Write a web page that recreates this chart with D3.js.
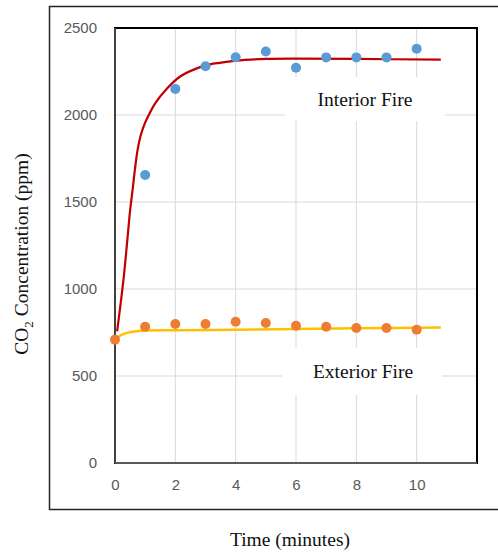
<!DOCTYPE html>
<html><head><meta charset="utf-8">
<script src="https://cdn.jsdelivr.net/npm/d3@7/dist/d3.min.js"></script>
<style>body{margin:0;background:#fff;}svg{display:block;}</style>
</head><body>
<svg id="c" width="498" height="552"></svg>
<script>
// Data
const times = [0,1,2,3,4,5,6,7,8,9,10];
const interiorTimes = [1,2,3,4,5,6,7,8,9,10];
const interiorValues = [1655,2150,2280,2332,2365,2272,2331,2331,2331,2381];
const exteriorValues = [709,783,799,799,812,805,789,783,776,776,766];
// Fitted trend curves
const interiorFitT = [0.07,0.28,0.40,0.50,0.59,0.67,0.75,0.84,0.95,1.05,1.33,1.71,2.15,2.71,3.15,3.48,4,5,6,8,10.8];
const interiorFitV = [756,1052,1265,1450,1580,1700,1800,1875,1935,1975,2067,2150,2220,2268,2291,2300,2312,2322,2324,2322,2318];
const exteriorFitT = [0.03,0.2,0.4,0.7,1,2,4,6,8,10.8];
const exteriorFitV = [715,735,748,757,761,763,766,770,774,779];
const xTicks = [0,2,4,6,8,10];
const yTicks = [0,500,1000,1500,2000,2500];

const svg = d3.select("#c");
const L = 115, T = 28, R = 477, B = 463;
const x = d3.scaleLinear().domain([0,12]).range([L,R]);
const y = d3.scaleLinear().domain([0,2500]).range([B,T]);

// outer frame
svg.append("rect").attr("x",49.5).attr("y",6.5).attr("width",460).attr("height",503)
  .attr("fill","none").attr("stroke","#222").attr("stroke-width",1.5);

// gridlines
svg.append("g").selectAll("line").data(yTicks.slice(1)).join("line")
  .attr("x1",L).attr("x2",R).attr("y1",d=>y(d)).attr("y2",d=>y(d))
  .attr("stroke","#d9d9d9").attr("stroke-width",1);
svg.append("g").selectAll("line").data(xTicks.slice(1)).join("line")
  .attr("y1",T).attr("y2",B).attr("x1",d=>x(d)).attr("x2",d=>x(d))
  .attr("stroke","#d9d9d9").attr("stroke-width",1);

// label boxes (white backgrounds covering grid)
svg.append("rect").attr("x",285).attr("y",77).attr("width",160).attr("height",44).attr("fill","#fff");
svg.append("rect").attr("x",282).attr("y",348).attr("width",160).attr("height",47).attr("fill","#fff");

// plot border
svg.append("rect").attr("x",L).attr("y",T).attr("width",R-L).attr("height",B-T)
  .attr("fill","none").attr("stroke","#000").attr("stroke-width",2);
svg.append("line").attr("x1",L).attr("x2",L).attr("y1",T).attr("y2",B).attr("stroke","#404040").attr("stroke-width",2);
svg.append("line").attr("x1",L).attr("x2",R).attr("y1",B).attr("y2",B).attr("stroke","#595959").attr("stroke-width",2);

// axes
const yAxis = d3.axisLeft(y).tickValues(yTicks).tickSize(0).tickPadding(18).tickFormat(d3.format("d"));
const gy = svg.append("g").attr("transform",`translate(${L},0)`).call(yAxis);
const xAxis = d3.axisBottom(x).tickValues(xTicks).tickSize(0).tickPadding(16).tickFormat(d3.format("d"));
const gx = svg.append("g").attr("transform",`translate(0,${B})`).call(xAxis);
[gy,gx].forEach(g=>{
  g.select(".domain").remove();
  g.selectAll("text").attr("fill","#595959").style("font-family","'Liberation Sans', Arial, sans-serif").style("font-size","15px");
});

// curves
const line = d3.line().x(d=>x(d[0])).y(d=>y(d[1])).curve(d3.curveCatmullRom.alpha(0.5));
svg.append("path").datum(exteriorFitT.map((t,i)=>[t,exteriorFitV[i]]))
  .attr("d",line).attr("fill","none").attr("stroke","#FFC000").attr("stroke-width",2.5);
svg.append("path").datum(interiorFitT.map((t,i)=>[t,interiorFitV[i]]))
  .attr("d",line).attr("fill","none").attr("stroke","#C00000").attr("stroke-width",2.2);

// points
svg.append("g").selectAll("circle").data(times).join("circle")
  .attr("cx",(d)=>x(d)).attr("cy",(d,i)=>y(exteriorValues[i])).attr("r",5).attr("fill","#ED7D31");
svg.append("g").selectAll("circle").data(interiorTimes).join("circle")
  .attr("cx",(d)=>x(d)).attr("cy",(d,i)=>y(interiorValues[i])).attr("r",5).attr("fill","#5B9BD5");

// labels
const serif = "'Liberation Serif','Times New Roman',serif";
svg.append("text").attr("x",365).attr("y",106).attr("text-anchor","middle")
  .style("font-family",serif).style("font-size","19.5px").attr("fill","#111").text("Interior Fire");
svg.append("text").attr("x",363).attr("y",378).attr("text-anchor","middle")
  .style("font-family",serif).style("font-size","19.5px").attr("fill","#111").text("Exterior Fire");

svg.append("text").attr("x",290).attr("y",546).attr("text-anchor","middle")
  .style("font-family",serif).style("font-size","19.5px").attr("fill","#111").text("Time (minutes)");

const yt = svg.append("text").attr("transform","translate(28,254) rotate(-90)").attr("text-anchor","middle")
  .style("font-family",serif).style("font-size","19.5px").attr("fill","#111");
yt.append("tspan").text("CO");
yt.append("tspan").attr("dy",5).style("font-size","13px").text("2");
yt.append("tspan").attr("dy",-5).text(" Concentration (ppm)");
</script>
</body></html>
